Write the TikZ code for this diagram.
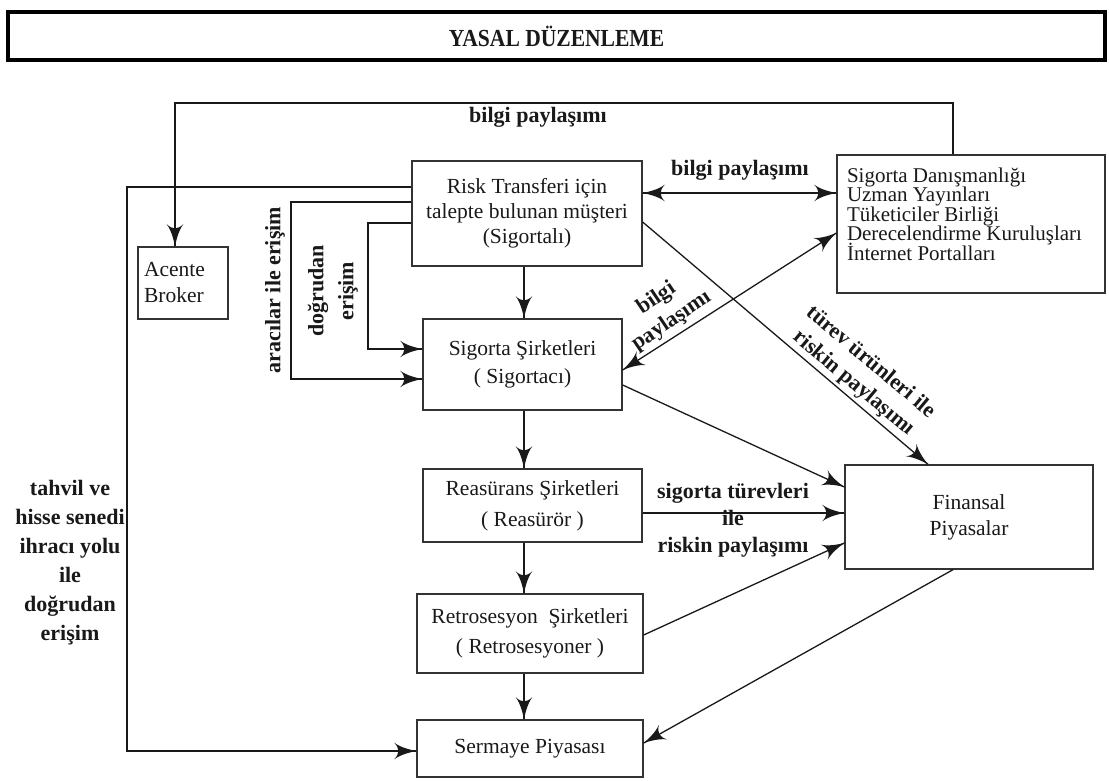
\documentclass[tikz,border=0pt]{standalone}
\usepackage{fontspec}
\setmainfont{Liberation Serif}
\newfontfamily\darfont{Liberation Serif}[FakeStretch=0.88]
\usepackage{tikz}
\usetikzlibrary{arrows}
\usetikzlibrary{decorations.markings}
\usetikzlibrary{positioning}
\tikzset{ok/.style = {decoration={markings,
                                  mark=at position 1 with {\arrow[scale=3.3]{latex'}}},
                      postaction={decorate}},
         cift/.style = {decoration={markings,
                                    mark=at position 0 with {\arrowreversed[scale=3.3]{latex'}},
                                    mark=at position 1 with {\arrow[scale=3.3]{latex'}}},
                        postaction={decorate}},
         kutu/.style = {draw=black!80, line width=1.3pt, align=center, inner sep=0pt,
                        font=\fontsize{21.5}{27}\selectfont},
         etiket/.style = {align=center, inner sep=0pt,
                          font=\bfseries\fontsize{22}{27}\selectfont}}
\definecolor{cizgi}{rgb}{0.1, 0.1, 0.1}

\begin{document}
\begin{tikzpicture}[x=1pt, y=-1pt, line width=1.3pt, cizgi]
    \useasboundingbox (0,0) rectangle (1109,780);
    \node [kutu, draw=black, line width=4pt, minimum width=1097, minimum height=48,
           font=\darfont\bfseries\fontsize{24.5}{28}\selectfont] (yasal) at (556.5,36) {YASAL DÜZENLEME};

    % kutular
    \node [kutu, minimum width=90, minimum height=72, align=left, text width=78,
           font=\fontsize{21.5}{26}\selectfont] (acente) at (183,283) {Acente\\Broker};
    \node [kutu, minimum width=230, minimum height=105,
           font=\fontsize{21.5}{25}\selectfont] (risk) at (527,213.5)
          {Risk Transferi için\\talepte bulunan müşteri\\(Sigortalı)};
    \node [kutu, minimum width=199, minimum height=91,
           font=\fontsize{21.5}{28}\selectfont] (sig) at (522.5,364.5) {Sigorta Şirketleri\\( Sigortacı)};
    \node [kutu, minimum width=219, minimum height=73,
           font=\fontsize{21.5}{31}\selectfont] (reas) at (532.5,505.5) {Reasürans Şirketleri\\( Reasürör )};
    \node [kutu, minimum width=226, minimum height=79,
           font=\fontsize{21.5}{30}\selectfont] (retro) at (530,633.5)
          {Retrosesyon\ \ Şirketleri\\( Retrosesyoner )};
    \node [kutu, minimum width=226, minimum height=57] (serm) at (530,748.5) {Sermaye Piyasası};
    \node [kutu, minimum width=248, minimum height=104,
           font=\fontsize{21.5}{26}\selectfont] (fin) at (969,517) {Finansal\\Piyasalar};
    \node [kutu, minimum width=268, minimum height=138] (sd) at (971,224) {};
    \node [anchor=west, align=left, inner sep=0pt,
           font={\fontsize{21}{19.5}\selectfont\lineskiplimit-30pt\relax}]
          (sdliste) at ([xshift=10pt, yshift=10pt]sd.west)
          {Sigorta Danışmanlığı\\Uzman Yayınları\\Tüketiciler Birliği\\Derecelendirme Kuruluşları\\İnternet Portalları};

    % ust bilgi dongusu
    \coordinate (ust) at (953,103);
    \coordinate (solust) at (175,103);
    \draw [ok] (sd.north -| ust) -- (ust) -- (solust) -- (acente.north -| solust);
    \node [etiket] (bilgiust) at (538,117) {bilgi paylaşımı};

    % sigortali ile kutular
    \draw [cift] (risk.east |- 0,193) -- (sd.west |- 0,193);
    \node [etiket] (bilgiorta) at (740,170) {bilgi paylaşımı};
    \draw [cift] (sig.east |- 0,370) -- (sd.west |- 0,233);
    \node [etiket, rotate=34] (bilgialt) at (664,310) {bilgi\\paylaşımı};
    \draw [ok] (risk.east |- 0,222) -- (fin.north -| 928,0);
    \node [etiket, rotate=-40] (turev) at (862,373) {türev ürünleri ile\\riskin paylaşımı};

    % dikey zincir
    \coordinate (orta) at (524,0);
    \draw [ok] (risk.south -| orta) -- (sig.north -| orta);
    \draw [ok] (sig.south -| orta) -- (reas.north -| orta);
    \draw [ok] (reas.south -| orta) -- (retro.north -| orta);
    \draw [ok] (retro.south -| orta) -- (serm.north -| orta);

    % finansal piyasalar
    \draw [ok] (sig.east |- 0,385) -- (fin.west |- 0,487);
    \draw [ok] (reas.east |- 0,513) -- (fin.west |- 0,513);
    \draw [ok] (retro.east |- 0,635) -- (fin.west |- 0,543);
    \node [etiket] (turevler) at (733,520) {sigorta türevleri\\ile\\riskin paylaşımı};
    \draw [ok] (fin.south -| 953,0) -- (serm.east |- 0,743);

    % sol erisim yollari
    \coordinate (sol) at (127,751);
    \draw [ok] (risk.west |- 0,187) -| (sol) -- (serm.west |- sol);
    \draw [ok] (risk.west |- 0,202) -| (291,379) -- (sig.west |- 0,379);
    \draw [ok] (risk.west |- 0,223) -| (368,349) -- (sig.west |- 0,349);
    \node [etiket, rotate=90] (araci) at (275,290) {aracılar ile erişim};
    \node [etiket, rotate=90, font=\bfseries\fontsize{22}{30}\selectfont] (dogrudan) at (333,291)
          {doğrudan\\erişim};
    \node [etiket, font=\bfseries\fontsize{22}{29}\selectfont] (tahvil) at (70,563)
          {tahvil ve\\hisse senedi\\ihracı yolu\\ile\\doğrudan\\erişim};
  \end{tikzpicture}
\end{document}
